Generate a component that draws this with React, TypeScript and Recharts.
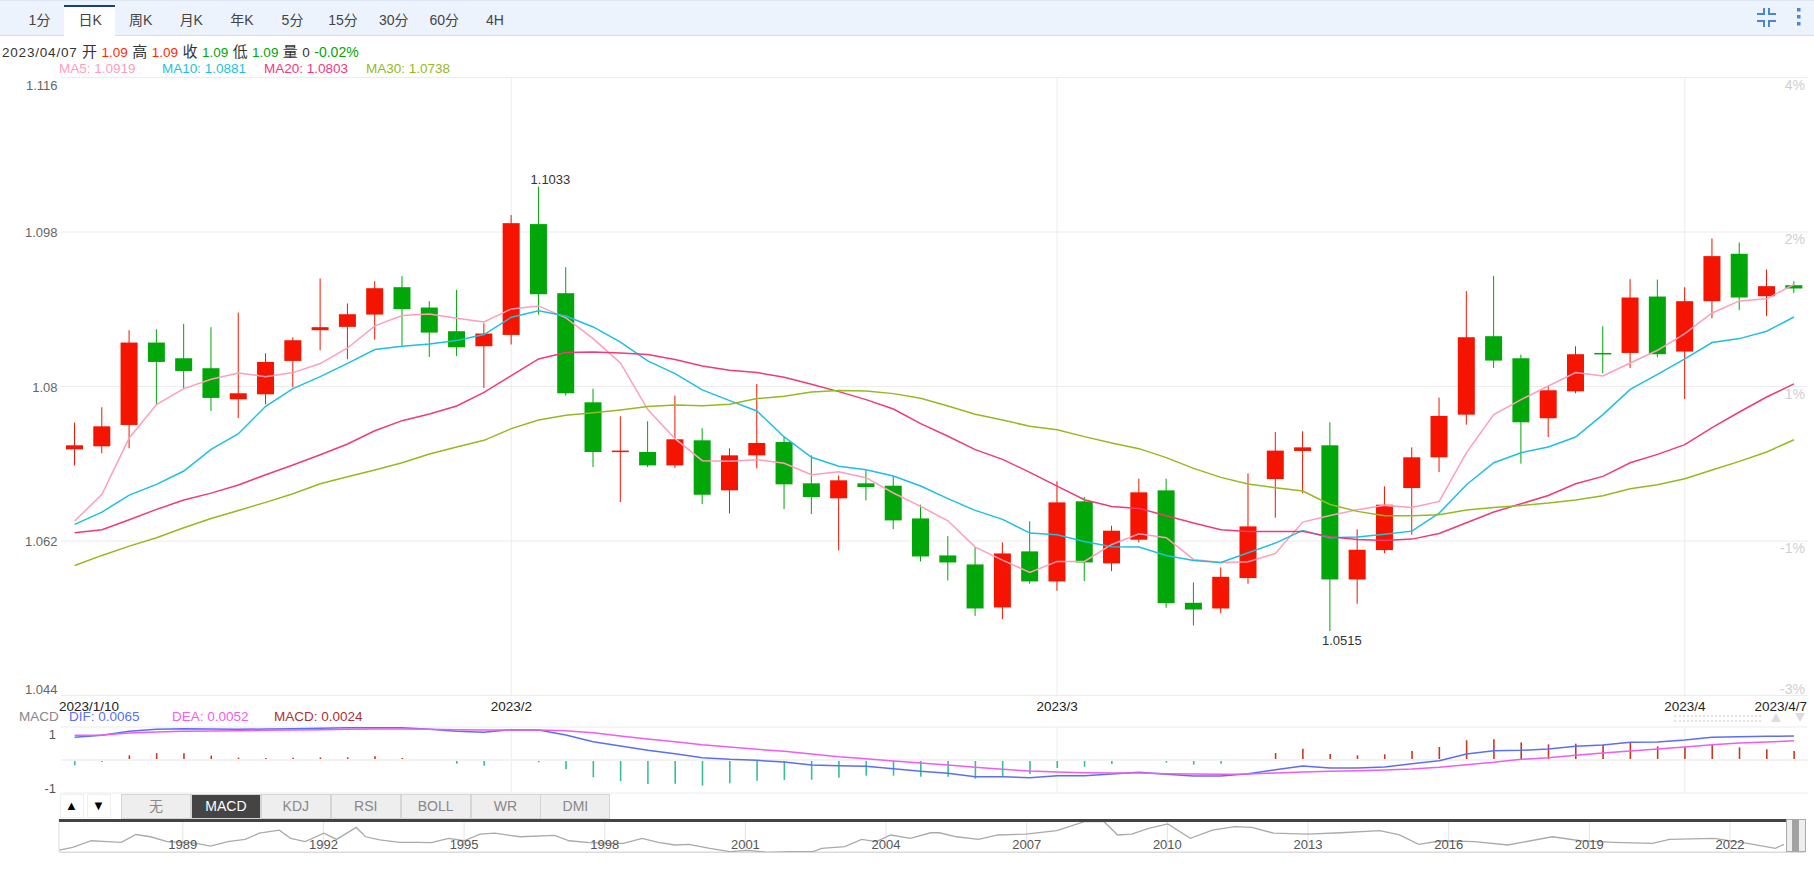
import React from "react";
import {
  Bar,
  CartesianGrid,
  Cell,
  ComposedChart,
  Line,
  LineChart,
  ReferenceLine,
  XAxis,
  YAxis,
} from "recharts";

const dates = [
  "2023/1/10", "2023/1/11", "2023/1/12", "2023/1/13", "2023/1/16", "2023/1/17", "2023/1/18", "2023/1/19", "2023/1/20",
  "2023/1/23", "2023/1/24", "2023/1/25", "2023/1/26", "2023/1/27", "2023/1/30", "2023/1/31", "2023/2/1", "2023/2/2",
  "2023/2/3", "2023/2/6", "2023/2/7", "2023/2/8", "2023/2/9", "2023/2/10", "2023/2/13", "2023/2/14", "2023/2/15",
  "2023/2/16", "2023/2/17", "2023/2/20", "2023/2/21", "2023/2/22", "2023/2/23", "2023/2/24", "2023/2/27", "2023/2/28",
  "2023/3/1", "2023/3/2", "2023/3/3", "2023/3/6", "2023/3/7", "2023/3/8", "2023/3/9", "2023/3/10", "2023/3/13",
  "2023/3/14", "2023/3/15", "2023/3/16", "2023/3/17", "2023/3/20", "2023/3/21", "2023/3/22", "2023/3/23", "2023/3/24",
  "2023/3/27", "2023/3/28", "2023/3/29", "2023/3/30", "2023/3/31", "2023/4/3", "2023/4/4", "2023/4/5", "2023/4/6",
  "2023/4/7",
];

const opens = [
  1.07268, 1.07303, 1.07552, 1.08512, 1.08329, 1.08213, 1.07851, 1.07909, 1.08298, 1.08656,
  1.08695, 1.08838, 1.09157, 1.0892, 1.08644, 1.08469, 1.08601, 1.09892, 1.09087, 1.07816,
  1.07237, 1.07237, 1.07081, 1.07373, 1.0679, 1.07198, 1.07354, 1.06872, 1.06697, 1.06872,
  1.06844, 1.06463, 1.06032, 1.05927, 1.05426, 1.06079, 1.05729, 1.06662, 1.05939, 1.06215,
  1.0679, 1.0548, 1.05414, 1.05768, 1.06922, 1.07249, 1.07315, 1.05752, 1.06094, 1.06817,
  1.07175, 1.07672, 1.08586, 1.08329, 1.0763, 1.07944, 1.08391, 1.08391, 1.09048, 1.08407,
  1.08994, 1.09546, 1.09052, 1.0918,
];
const closes = [
  1.07315, 1.07536, 1.08512, 1.08286, 1.08181, 1.07867, 1.07921, 1.08286, 1.08539, 1.08691,
  1.08842, 1.09145, 1.08901, 1.08628, 1.08457, 1.08617, 1.09903, 1.09075, 1.07921, 1.07237,
  1.07253, 1.07081, 1.07385, 1.06739, 1.07198, 1.07342, 1.0686, 1.06712, 1.06907, 1.06829,
  1.0644, 1.0602, 1.0595, 1.05414, 1.06055, 1.05729, 1.0665, 1.0595, 1.0632, 1.06767,
  1.05476, 1.05402, 1.05783, 1.0637, 1.07253, 1.07291, 1.05752, 1.06098, 1.06623, 1.07175,
  1.07657, 1.08574, 1.08302, 1.07583, 1.07956, 1.08376, 1.0838, 1.09037, 1.08376, 1.08994,
  1.09519, 1.09037, 1.09169, 1.09142,
];
const highs = [
  1.07579, 1.07758, 1.08656, 1.08667, 1.0873, 1.08691, 1.08862, 1.08387, 1.08574, 1.09258,
  1.08967, 1.09227, 1.09285, 1.08994, 1.09126, 1.08737, 1.09997, 1.1033, 1.0939, 1.07975,
  1.07653, 1.07595, 1.07894, 1.07513, 1.0728, 1.0803, 1.0742, 1.07198, 1.06965, 1.07023,
  1.06957, 1.06623, 1.06257, 1.06129, 1.06184, 1.06429, 1.06895, 1.06712, 1.06378, 1.06926,
  1.06926, 1.05717, 1.05892, 1.06988, 1.0747, 1.07478, 1.07583, 1.06335, 1.06837, 1.07291,
  1.07871, 1.09111, 1.09289, 1.08372, 1.08007, 1.08469, 1.08702, 1.0925, 1.09246, 1.09157,
  1.09725, 1.09678, 1.09363, 1.09227,
];
const lows = [
  1.07081, 1.07221, 1.0728, 1.07789, 1.07983, 1.07715, 1.07633, 1.07793, 1.07991, 1.08422,
  1.08317, 1.08547, 1.08477, 1.08345, 1.08356, 1.07983, 1.08489, 1.08838, 1.07894, 1.07062,
  1.06654, 1.07062, 1.0705, 1.06631, 1.06522, 1.07046, 1.06572, 1.06514, 1.0609, 1.06673,
  1.06339, 1.05962, 1.05741, 1.05328, 1.0529, 1.05702, 1.0562, 1.05733, 1.05849, 1.06184,
  1.05422, 1.05216, 1.05359, 1.05702, 1.06471, 1.06759, 1.0515, 1.05468, 1.06059, 1.06273,
  1.07004, 1.07556, 1.08216, 1.07101, 1.07412, 1.07921, 1.08154, 1.08216, 1.08341, 1.07855,
  1.08796, 1.08889, 1.08819, 1.09087,
];

const ma5 = [
  1.06432, 1.06743, 1.074, 1.07789, 1.07975, 1.08084, 1.08158, 1.08115, 1.08162, 1.08267,
  1.08449, 1.08706, 1.08826, 1.08846, 1.08795, 1.08752, 1.08904, 1.08939, 1.08799, 1.08558,
  1.08275, 1.07731, 1.07392, 1.07136, 1.07128, 1.07148, 1.07105, 1.06973, 1.07008, 1.06938,
  1.06759, 1.06603, 1.06436, 1.06129, 1.05978, 1.05834, 1.05962, 1.05962, 1.0616, 1.06285,
  1.06238, 1.05985, 1.0595, 1.05958, 1.06055, 1.0642, 1.06498, 1.06564, 1.06615, 1.06591,
  1.06661, 1.07229, 1.07672, 1.07847, 1.08006, 1.08162, 1.08123, 1.08274, 1.08422, 1.08616,
  1.08857, 1.08997, 1.09021, 1.0919,
];
const ma10 = [
  1.06393, 1.06537, 1.06735, 1.06859, 1.07015, 1.07268, 1.0745, 1.07769, 1.07975, 1.08115,
  1.0827, 1.0843, 1.08469, 1.08496, 1.08535, 1.08605, 1.08807, 1.08881, 1.08822, 1.08694,
  1.08516, 1.08298, 1.0815, 1.0796, 1.07835, 1.07715, 1.07412, 1.07175, 1.0707, 1.07031,
  1.06957, 1.0684, 1.06693, 1.06557, 1.06452, 1.06292, 1.06273, 1.06195, 1.06133, 1.06129,
  1.06032, 1.05973, 1.0595, 1.06063, 1.06176, 1.06323, 1.06238, 1.06246, 1.0628, 1.06315,
  1.06525, 1.06856, 1.07112, 1.07229, 1.07295, 1.07412, 1.07672, 1.07967, 1.08142, 1.08321,
  1.08512, 1.08558, 1.08644, 1.0881,
];
const ma20 = [
  1.06296, 1.06331, 1.06447, 1.06568, 1.06677, 1.06758, 1.06852, 1.06972, 1.07085, 1.07205,
  1.0733, 1.07485, 1.07602, 1.0768, 1.07773, 1.07932, 1.08127, 1.08321, 1.08395, 1.08403,
  1.08391, 1.08372, 1.08314, 1.0824, 1.08189, 1.08162, 1.08108, 1.08026, 1.0794, 1.07847,
  1.07738, 1.07567, 1.0742, 1.07264, 1.07151, 1.07, 1.0684, 1.06681, 1.06603, 1.0658,
  1.06495, 1.06409, 1.06331, 1.06312, 1.06312, 1.06312, 1.06249, 1.06218, 1.06207, 1.06222,
  1.06288, 1.06413, 1.06537, 1.06634, 1.06731, 1.06867, 1.06953, 1.07112, 1.07209, 1.07322,
  1.0752, 1.07703, 1.07878, 1.0803,
];
const ma30 = [
  1.05915, 1.06032, 1.0614, 1.06238, 1.06354, 1.06463, 1.06556, 1.0665, 1.06751, 1.06867,
  1.06949, 1.07027, 1.07112, 1.07213, 1.07295, 1.07373, 1.07509, 1.0761, 1.07664, 1.07695,
  1.07727, 1.07766, 1.07785, 1.07777, 1.07793, 1.07859, 1.07886, 1.07937, 1.07952, 1.07948,
  1.07917, 1.07863, 1.07773, 1.07676, 1.0761, 1.07536, 1.07497, 1.07416, 1.07342, 1.07276,
  1.07171, 1.07046, 1.06941, 1.06864, 1.06821, 1.06782, 1.06626, 1.06545, 1.06494, 1.06494,
  1.06506, 1.0656, 1.06591, 1.06615, 1.06642, 1.06677, 1.06727, 1.06809, 1.06856, 1.06926,
  1.07027, 1.07128, 1.07237, 1.0738,
];

const dif = [
  0.00613, 0.00667, 0.00775, 0.00829, 0.00847, 0.00838, 0.00829, 0.00838, 0.00847, 0.00856,
  0.00874, 0.00874, 0.00874, 0.00829, 0.00775, 0.00748, 0.0082, 0.00811, 0.00676, 0.00495,
  0.00378, 0.00261, 0.00171, 0.00063, 0.00018, -0.00009, -0.00054, -0.00135, -0.00153, -0.00171,
  -0.00234, -0.00306, -0.0036, -0.0045, -0.0045, -0.00477, -0.00423, -0.00423, -0.00378, -0.00333,
  -0.00387, -0.00432, -0.00432, -0.0037, -0.00261, -0.00162, -0.00216, -0.00216, -0.00189, -0.00099,
  -0.00018, 0.00162, 0.00252, 0.00261, 0.00297, 0.00369, 0.00405, 0.00477, 0.00486, 0.00541,
  0.00613, 0.00631, 0.0064, 0.0065,
];
const dea = [
  0.00667, 0.00676, 0.0073, 0.00757, 0.00775, 0.00784, 0.00793, 0.00802, 0.00811, 0.0082,
  0.00829, 0.00838, 0.00838, 0.00829, 0.0082, 0.00811, 0.00811, 0.00811, 0.00793, 0.00739,
  0.00649, 0.00568, 0.00495, 0.00414, 0.00351, 0.00288, 0.00234, 0.00162, 0.0009, 0.00036,
  -0.00027, -0.00081, -0.00135, -0.00198, -0.00252, -0.00297, -0.00324, -0.00342, -0.00351, -0.00351,
  -0.00369, -0.00378, -0.00387, -0.00378, -0.00351, -0.00324, -0.00306, -0.00288, -0.0027, -0.00243,
  -0.00198, -0.00126, -0.00063, 0.00018, 0.00063, 0.00126, 0.00189, 0.00243, 0.00297, 0.00351,
  0.00414, 0.00459, 0.00486, 0.0052,
];
const macd = [
  -0.00144, -0.00054, 0.00126, 0.00185, 0.00185, 0.00117, 0.00063, 0.00054, 0.00063, 0.00068,
  0.00072, 0.00099, 0.00054, 0.0, -0.00099, -0.00153, -0.0001, -0.00063, -0.00252, -0.00468,
  -0.00568, -0.00649, -0.0064, -0.00694, -0.00631, -0.00559, -0.00541, -0.00532, -0.00477, -0.00423,
  -0.00423, -0.0045, -0.0045, -0.00505, -0.00432, -0.00378, -0.00216, -0.0018, -0.00108, -0.0001,
  -0.00072, -0.00126, -0.00099, 0.0001, 0.00189, 0.00306, 0.00162, 0.00126, 0.00153, 0.00243,
  0.00351, 0.00532, 0.00559, 0.00477, 0.00423, 0.00441, 0.00414, 0.00468, 0.00369, 0.00351,
  0.00414, 0.00342, 0.00288, 0.0024,
];

// overview strip, long history of the same pair
const historyYears = [
  1986.37, 1986.65, 1987.05, 1987.39, 1987.69, 1988.0, 1988.31, 1988.67, 1989.0, 1989.29, 1989.59, 1989.96,
  1990.33, 1990.63, 1991.06, 1991.3, 1991.61, 1992.01, 1992.28, 1992.7, 1992.9, 1993.2, 1993.63, 1994.0, 1994.3,
  1994.67, 1995.0, 1995.34, 1995.65, 1996.2, 1996.93, 1997.24, 1997.67, 1998.1, 1998.4, 1998.8, 1999.14, 1999.5,
  1999.8, 2000.24, 2000.67, 2001.04, 2001.47, 2001.95, 2002.44, 2002.63, 2003.12, 2003.48, 2003.79, 2004.1, 2004.52,
  2004.95, 2005.14, 2005.5, 2005.97, 2006.39, 2006.98, 2007.64, 2008.23, 2008.65, 2008.94, 2009.24, 2009.6, 2010.01,
  2010.49, 2010.96, 2011.44, 2011.8, 2012.27, 2012.98, 2013.7, 2014.53, 2014.95, 2015.36, 2015.84, 2016.55, 2017.26,
  2018.21, 2018.81, 2019.52, 2020.35, 2020.71, 2021.66, 2022.37, 2022.97, 2023.15,
];
const historyValues = [
  0.96, 1.02, 1.17, 1.15, 1.135, 1.31, 1.26, 1.15, 1.135, 1.11, 1.05, 1.15,
  1.2, 1.34, 1.41, 1.225, 1.15, 1.34, 1.2, 1.47, 1.26, 1.19, 1.135, 1.135, 1.13,
  1.225, 1.17, 1.32, 1.34, 1.26, 1.29, 1.17, 1.13, 1.11, 1.11, 1.225, 1.135, 1.075,
  1.09, 1.0, 0.925, 0.955, 0.91, 0.925, 0.925, 1.0, 1.04, 1.2, 1.15, 1.3, 1.225,
  1.35, 1.35, 1.26, 1.2, 1.3, 1.32, 1.4, 1.6, 1.6, 1.3, 1.32, 1.45, 1.55,
  1.225, 1.41, 1.49, 1.47, 1.34, 1.32, 1.35, 1.4, 1.3, 1.09, 1.17, 1.15, 1.075,
  1.26, 1.17, 1.135, 1.11, 1.2, 1.225, 1.11, 1.0, 1.09,
];
const historyTicks = [1989, 1992, 1995, 1998, 2001, 2004, 2007, 2010, 2013, 2016, 2019, 2022];

const priceTicks = [1.044, 1.062, 1.08, 1.098, 1.116];
const percentLabels = ["-3%", "-1%", "1%", "2%", "4%"];
const monthDates = ["2023/2/1", "2023/3/1", "2023/4/3"];
const monthNames: Record<string, string> = {
  "2023/1/10": "2023/1/10",
  "2023/2/1": "2023/2",
  "2023/3/1": "2023/3",
  "2023/4/3": "2023/4",
  "2023/4/7": "2023/4/7",
};
const toolbarTabs = ["1分", "日K", "周K", "月K", "年K", "5分", "15分", "30分", "60分", "4H"];
const indicatorTabs = ["无", "MACD", "KDJ", "RSI", "BOLL", "WR", "DMI"];

const RED = "#f41400";
const GREEN = "#01a608";
const FONT = '"Liberation Sans", "Noto Sans CJK SC", sans-serif';

const priceData = dates.map((date, i) => ({
  date,
  open: opens[i],
  close: closes[i],
  high: highs[i],
  low: lows[i],
  ma5: ma5[i],
  ma10: ma10[i],
  ma20: ma20[i],
  ma30: ma30[i],
}));
const macdData = dates.map((date, i) => ({ date, dif: dif[i], dea: dea[i], macd: macd[i] }));
const historyData = historyYears.map((year, i) => ({ year, value: historyValues[i] }));

const peak = Math.max(...highs);
const trough = Math.min(...lows);

const Candle = (props: any) => {
  const { x, y, width, height, payload } = props;
  const { open, close, high, low } = payload;
  const toY = (v: number) => y + ((high - v) / (high - low)) * height;
  const color = close >= open ? RED : GREEN;
  const cx = x + width / 2;
  const top = toY(Math.max(open, close));
  const bottom = toY(Math.min(open, close));
  return (
    <g>
      <line x1={cx} x2={cx} y1={y} y2={y + height} stroke={color} strokeWidth={1} />
      <rect x={x} y={top} width={width} height={Math.max(bottom - top, 1.5)} fill={color} />
      {high === peak && (
        <text x={cx + 12} y={y - 3} textAnchor="middle" fontSize={13} fill="#333">
          {high.toFixed(4)}
        </text>
      )}
      {low === trough && (
        <text x={cx + 12} y={y + height + 14} textAnchor="middle" fontSize={13} fill="#333">
          {low.toFixed(4)}
        </text>
      )}
    </g>
  );
};

const PriceTick = (props: any) => {
  const { x, y, payload } = props;
  const shift = payload.value === 1.116 ? 7 : payload.value === 1.044 ? -7 : 0;
  return (
    <text x={x + 2.5} y={y + shift} dy={5} textAnchor="end" fontSize={13} fill="#666">
      {payload.value}
    </text>
  );
};

const PercentTick = (props: any) => {
  const { y, payload, index } = props;
  const shift = payload.value === 1.044 ? -7 : 7;
  return (
    <text x={1805} y={y + shift} dy={5} textAnchor="end" fontSize={14} fill="#d0d0d0">
      {percentLabels[index]}
    </text>
  );
};

const DateTick = (props: any) => {
  const { x, payload } = props;
  const value = payload.value;
  let anchor = "middle";
  let left = x;
  if (value === "2023/1/10") {
    anchor = "start";
    left = 59;
  }
  if (value === "2023/4/7") {
    anchor = "end";
    left = 1807;
  }
  return (
    <text x={left} y={711} textAnchor={anchor} fontSize={13.5} fill="#222">
      {monthNames[value]}
    </text>
  );
};

const MacdTick = (props: any) => {
  const { x, y, payload } = props;
  return (
    <text x={x + 1} y={y + 1} dy={5} textAnchor="end" fontSize={13} fill="#555">
      {payload.value > 0 ? "1" : "-1"}
    </text>
  );
};

const Abs = ({ left, top, style, children }: any) => (
  <div style={{ position: "absolute", left, top, whiteSpace: "nowrap", ...style }}>{children}</div>
);

const Toolbar = () => (
  <>
    <Abs
      left={0}
      top={0}
      style={{
        width: 1814,
        height: 36,
        background: "#edf3fc",
        borderTop: "1px solid #dfe7f5",
        borderBottom: "1px solid #d6deea",
        boxSizing: "border-box",
      }}
    />
    <Abs
      left={64}
      top={5}
      style={{ width: 51, height: 31, background: "#fff", borderTop: "2px solid #1c3c8c", boxSizing: "border-box" }}
    />
    {toolbarTabs.map((tab, i) => (
      <Abs
        key={tab}
        left={39.5 + i * 50.6 - 25}
        top={12}
        style={{ width: 50, textAlign: "center", fontSize: 14, lineHeight: "16px", color: "#444" }}
      >
        {tab}
      </Abs>
    ))}
    <svg style={{ position: "absolute", left: 1750, top: 5, width: 60, height: 26 }}>
      <g fill="none" stroke="#4a86d8" strokeWidth={2}>
        <path d="M7 9 H14 V3" />
        <path d="M26 9 H19 V3" />
        <path d="M7 16 H14 V22" />
        <path d="M26 16 H19 V22" />
      </g>
      <g fill="#4a86d8">
        <rect x={47} y={3} width={3.5} height={3.5} />
        <rect x={47} y={10} width={3.5} height={3.5} />
        <rect x={47} y={17} width={3.5} height={3.5} />
      </g>
    </svg>
  </>
);

const Cjk = ({ children }: any) => <span style={{ fontSize: 15 }}>{children}</span>;

const Header = () => (
  <>
    <Abs left={2} top={44} style={{ fontSize: 13.5, lineHeight: "16px", color: "#333", wordSpacing: 0.7 }}>
      <span style={{ letterSpacing: 0.8 }}>2023/04/07</span> <Cjk>开</Cjk>{" "}
      <span style={{ color: "#ff2a00" }}>1.09</span> <Cjk>高</Cjk> <span style={{ color: "#ff2a00" }}>1.09</span>{" "}
      <Cjk>收</Cjk> <span style={{ color: GREEN }}>1.09</span> <Cjk>低</Cjk>{" "}
      <span style={{ color: GREEN }}>1.09</span> <Cjk>量</Cjk> 0{" "}
      <span style={{ color: GREEN, fontSize: 14 }}>-0.02%</span>
    </Abs>
    <Abs left={59} top={61} style={{ fontSize: 13.5, lineHeight: "16px", color: "#ff9ebc" }}>MA5: 1.0919</Abs>
    <Abs left={162} top={61} style={{ fontSize: 13.5, lineHeight: "16px", color: "#1fbfe0" }}>MA10: 1.0881</Abs>
    <Abs left={264} top={61} style={{ fontSize: 13.5, lineHeight: "16px", color: "#f03a7a" }}>MA20: 1.0803</Abs>
    <Abs left={366} top={61} style={{ fontSize: 13.5, lineHeight: "16px", color: "#96b91e" }}>MA30: 1.0738</Abs>
  </>
);

const MacdHeader = () => (
  <>
    <Abs left={19} top={709} style={{ fontSize: 13.5, lineHeight: "16px", color: "#888" }}>MACD</Abs>
    <Abs left={69} top={709} style={{ fontSize: 13.5, lineHeight: "16px", color: "#5a6ff5" }}>DIF: 0.0065</Abs>
    <Abs left={172} top={709} style={{ fontSize: 13.5, lineHeight: "16px", color: "#f060f0" }}>DEA: 0.0052</Abs>
    <Abs left={274} top={709} style={{ fontSize: 13.5, lineHeight: "16px", color: "#b03030" }}>MACD: 0.0024</Abs>
    <Abs
      left={1674}
      top={715}
      style={{
        width: 87,
        height: 3,
        borderTop: "2px dotted #e3e3e3",
        borderBottom: "2px dotted #e3e3e3",
      }}
    />
    <Abs
      left={1771}
      top={713}
      style={{ width: 0, height: 0, borderLeft: "5px solid transparent", borderRight: "5px solid transparent", borderBottom: "9px solid #ddd" }}
    />
    <Abs
      left={1795}
      top={713}
      style={{ width: 0, height: 0, borderLeft: "5px solid transparent", borderRight: "5px solid transparent", borderTop: "9px solid #ddd" }}
    />
  </>
);

const IndicatorTabs = () => (
  <>
    <Abs left={59.5} top={794} style={{ width: 24, height: 24, border: "1px solid #f0f0f0", boxSizing: "border-box", textAlign: "center", fontSize: 13, lineHeight: "22px", color: "#000" }}>▲</Abs>
    <Abs left={86.5} top={794} style={{ width: 24, height: 24, border: "1px solid #f0f0f0", boxSizing: "border-box", textAlign: "center", fontSize: 13, lineHeight: "22px", color: "#000" }}>▼</Abs>
    {indicatorTabs.map((tab, i) => (
      <Abs
        key={tab}
        left={121 + i * 69.9}
        top={794}
        style={{
          width: 70,
          height: 25,
          boxSizing: "border-box",
          textAlign: "center",
          fontSize: 14,
          lineHeight: "23px",
          background: tab === "MACD" ? "#444" : "#eee",
          color: tab === "MACD" ? "#fff" : "#888",
          border: "1px solid #d5d5d5",
        }}
      >
        {tab}
      </Abs>
    ))}
  </>
);

const ScrollHandle = () => (
  <>
    <Abs left={59} top={819} style={{ width: 1727, height: 2.5, background: "#444" }} />
    <Abs left={1786} top={819} style={{ width: 20, height: 33, background: "#eee", border: "1px solid #aaa", boxSizing: "border-box" }} />
    <Abs left={1792} top={820} style={{ width: 6.5, height: 31, background: "#a2a2a2" }} />
  </>
);

export default function App() {
  return (
    <div
      style={{
        position: "absolute",
        left: 0,
        top: 0,
        width: 1814,
        height: 881,
        background: "#fff",
        overflow: "hidden",
        fontFamily: FONT,
      }}
    >
      <Toolbar />
      <Header />

      <div style={{ position: "absolute", left: 0, top: 0 }}>
        <ComposedChart
          width={1814}
          height={720}
          data={priceData}
          margin={{ top: 77.5, right: 6.4, bottom: 0, left: 0 }}
          barSize={17}
        >
          <CartesianGrid stroke="#ececec" verticalValues={monthDates} />
          <XAxis
            dataKey="date"
            ticks={["2023/1/10", ...monthDates, "2023/4/7"]}
            interval={0}
            height={24.5}
            tick={DateTick}
            tickLine={false}
            axisLine={false}
          />
          <YAxis
            domain={[1.044, 1.116]}
            ticks={priceTicks}
            interval={0}
            width={61}
            tick={PriceTick}
            tickLine={false}
            axisLine={false}
            tickMargin={0}
            allowDataOverflow
          />
          <YAxis
            yAxisId="pct"
            orientation="right"
            mirror
            domain={[1.044, 1.116]}
            ticks={priceTicks}
            interval={0}
            tick={PercentTick}
            tickLine={false}
            axisLine={false}
            allowDataOverflow
          />
          <Bar
            dataKey={(d: any) => [d.low, d.high]}
            shape={Candle}
            isAnimationActive={false}
          />
          <Line yAxisId="pct" dataKey="ma5" type="linear" stroke="#ff9ebc" strokeWidth={1.5} dot={false} isAnimationActive={false} />
          <Line dataKey="ma10" type="linear" stroke="#1fbfe0" strokeWidth={1.5} dot={false} isAnimationActive={false} />
          <Line dataKey="ma20" type="linear" stroke="#f03a7a" strokeWidth={1.5} dot={false} isAnimationActive={false} />
          <Line dataKey="ma30" type="linear" stroke="#96b91e" strokeWidth={1.5} dot={false} isAnimationActive={false} />
        </ComposedChart>
      </div>

      <MacdHeader />

      <div style={{ position: "absolute", left: 0, top: 720 }}>
        <ComposedChart
          width={1814}
          height={76}
          data={macdData}
          margin={{ top: 7, right: 6.4, bottom: 3, left: 0 }}
          barSize={1.6}
        >
          <CartesianGrid
            stroke="#ececec"
            horizontalValues={[-0.00892, 0.00892]}
            verticalValues={monthDates}
          />
          <ReferenceLine y={0} stroke="#f2f2f2" strokeWidth={2} />
          <XAxis dataKey="date" hide />
          <YAxis
            domain={[-0.00892, 0.00892]}
            ticks={[-0.0073, 0.0073]}
            interval={0}
            width={61}
            tick={MacdTick}
            tickLine={false}
            axisLine={false}
            tickMargin={0}
          />
          <Bar dataKey="macd" isAnimationActive={false}>
            {macdData.map((d) => (
              <Cell key={d.date} fill={d.macd >= 0 ? "#c8391c" : "#37bf98"} />
            ))}
          </Bar>
          <Line dataKey="dif" type="linear" stroke="#5a6ff5" strokeWidth={1.5} dot={false} isAnimationActive={false} />
          <Line dataKey="dea" type="linear" stroke="#f05cf0" strokeWidth={1.5} dot={false} isAnimationActive={false} />
        </ComposedChart>
      </div>

      <IndicatorTabs />

      <div style={{ position: "absolute", left: 0, top: 815 }}>
        <LineChart
          width={1814}
          height={40}
          data={historyData}
          margin={{ top: 5, right: 9, bottom: 2.7, left: 59 }}
        >
          <XAxis type="number" dataKey="year" domain={[1986.36, 2023.6]} hide allowDataOverflow />
          <YAxis domain={[0.91, 1.6375]} hide allowDataOverflow />
          <ReferenceLine y={0.91} stroke="#dcdcdc" strokeWidth={1.5} />
          <ReferenceLine x={1986.36} stroke="#dcdcdc" />
          {historyTicks.map((year) => (
            <ReferenceLine
              key={year}
              x={year}
              stroke="#e4e4e4"
              label={{ value: String(year), position: "insideBottom", offset: 3, fontSize: 13, fill: "#555" }}
            />
          ))}
          <Line dataKey="value" type="linear" stroke="#aaaaaa" strokeWidth={1.3} dot={false} isAnimationActive={false} />
        </LineChart>
      </div>

      <ScrollHandle />
    </div>
  );
}
